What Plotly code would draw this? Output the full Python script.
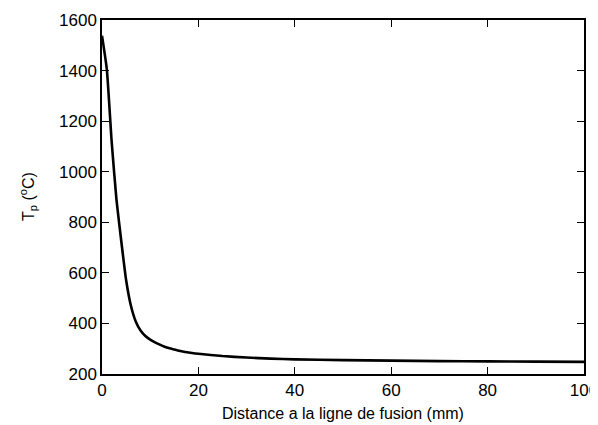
import plotly.graph_objects as go

distance_mm = [0, 1, 2, 3, 4, 5, 6, 7, 8, 9, 10, 11, 12, 13, 14, 15, 16, 17, 18, 19, 20,
               25, 30, 35, 40, 50, 60, 70, 80, 90, 100]
temperature_c = [1538, 1405, 1120, 890, 725, 572, 470, 408, 372, 350, 336, 325, 316,
                 308, 302, 297, 292, 288, 285, 282, 280, 271, 265, 261, 258, 255, 253,
                 251, 250, 249, 248]

x_ticks = [0, 20, 40, 60, 80, 100]
y_ticks = [200, 400, 600, 800, 1000, 1200, 1400, 1600]

FONT = "Liberation Sans, Arial, sans-serif"

fig = go.Figure()
fig.add_trace(go.Scatter(
    x=distance_mm, y=temperature_c, mode="lines",
    line=dict(color="black", width=2.6, shape="spline", smoothing=0.5),
    showlegend=False,
))

axis_common = dict(
    showline=True, linecolor="black", linewidth=1.5, mirror="ticks",
    ticks="inside", ticklen=7, tickwidth=1, tickcolor="black",
    showgrid=False, zeroline=False, automargin=False,
    ticklabeloverflow="allow",
    tickfont=dict(family=FONT, size=17, color="black"),
)

fig.update_layout(
    width=590, height=417,
    margin=dict(l=94, r=14, t=12, b=50.5, autoexpand=False),
    paper_bgcolor="white", plot_bgcolor="white",
    font=dict(family=FONT, size=16, color="black"),
    xaxis=dict(range=[0, 100], tickvals=x_ticks, **axis_common),
    yaxis=dict(range=[200, 1600], tickvals=y_ticks, **axis_common),
    annotations=[
        dict(text="Distance a la ligne de fusion (mm)", xref="paper", yref="paper",
             x=0.5, y=0, yshift=-39, xanchor="center", yanchor="middle",
             showarrow=False, font=dict(family=FONT, size=16, color="black")),
        dict(text="T<sub>p</sub> (<sup>o</sup>C)", xref="paper", yref="paper",
             x=0, y=0.5, xshift=-74, xanchor="center", yanchor="middle",
             textangle=-90, showarrow=False,
             font=dict(family=FONT, size=16, color="black")),
    ],
)

fig.write_html("out.html")
